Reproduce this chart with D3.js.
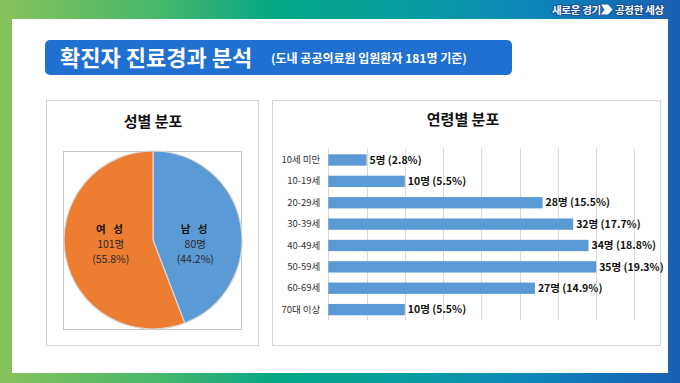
<!DOCTYPE html>
<html><head><meta charset="utf-8">
<script src="https://cdn.jsdelivr.net/npm/d3@7"></script>
<style>
html,body{margin:0;padding:0;background:#fff;}
svg{display:block;font-family:"Noto Sans CJK KR","Noto Sans",sans-serif;}
</style></head>
<body><svg id="c" width="680" height="383"></svg>
<script>
// ---- data ----
const titleText = "확진자 진료경과 분석";
const subtitleText = "(도내 공공의료원 입원환자 181명 기준)";
const sexCategories = ["남 성", "여 성"];
const sexValues = [80, 101];
const sexPercents = ["44.2%", "55.8%"];
const ageCategories = ["10세 미만","10-19세","20-29세","30-39세","40-49세","50-59세","60-69세","70대 이상"];
const ageValues = [5, 10, 28, 32, 34, 35, 27, 10];
const agePercents = ["2.8%","5.5%","15.5%","17.7%","18.8%","19.3%","14.9%","5.5%"];
const ageTicks = [0,5,10,15,20,25,30,35,40];

const svg = d3.select("#c");
const defs = svg.append("defs");
const g1 = defs.append("linearGradient").attr("id","bg").attr("x1","0").attr("x2","1").attr("y1","0").attr("y2","0");
[["0%","#86c35a"],["22%","#4bb86a"],["40%","#06a884"],["58%","#07a09f"],["78%","#0b86b8"],["100%","#1a5fb4"]]
  .forEach(s=>g1.append("stop").attr("offset",s[0]).attr("stop-color",s[1]));

svg.append("rect").attr("width",680).attr("height",383).attr("fill","url(#bg)");
svg.append("rect").attr("x",12).attr("y",19).attr("width",656).attr("height",354).attr("fill","#ffffff");

// logo
const logo = svg.append("g").attr("font-weight","bold").attr("font-size",10.5)
  .attr("fill","#fff").attr("stroke","#1b4f9a").attr("stroke-width",2).attr("paint-order","stroke");
logo.append("text").attr("x",552).attr("y",14).attr("letter-spacing",-0.3).text("새로운 경기");
logo.append("path").attr("d","M601,4.5 L608,4.5 L612.5,9.5 L608,14.5 L601,14.5 L604.5,9.5 Z").attr("stroke-width",1);
logo.append("text").attr("x",615).attr("y",14).attr("letter-spacing",-0.3).text("공정한 세상");

// title box
svg.append("rect").attr("x",45).attr("y",40).attr("width",467).attr("height",35).attr("rx",5).attr("fill","#1f70d0");
svg.append("text").attr("x",60).attr("y",66).attr("fill","#fff").attr("font-size",22).attr("font-weight","bold").text(titleText);
svg.append("text").attr("x",271).attr("y",63).attr("fill","#fff").attr("font-size",12).attr("font-weight","bold").text(subtitleText);

// panels
svg.append("rect").attr("x",46.5).attr("y",100.5).attr("width",212).attr("height",245).attr("fill","#fff").attr("stroke","#d4d4d4");
svg.append("rect").attr("x",272.5).attr("y",100.5).attr("width",388).attr("height",245).attr("fill","#fff").attr("stroke","#d4d4d4");

// ---- pie ----
svg.append("text").attr("x",153).attr("y",127).attr("text-anchor","middle").attr("font-size",15).attr("font-weight","bold").attr("fill","#111").text("성별 분포");
svg.append("rect").attr("x",63.5).attr("y",151.5).attr("width",178).attr("height",178).attr("fill","none").attr("stroke","#c4c4c4");
const cx = 153, cy = 240, R = 89;
const pieColors = d3.scaleOrdinal().domain(sexCategories).range(["#5b9bd5","#ed7d31"]);
const pie = d3.pie().sort(null).value(d=>d.v);
const sexData = sexCategories.map((c,i)=>({c, v:sexValues[i], p:sexPercents[i]}));
const arcs = pie(sexData);
const arc = d3.arc().innerRadius(0).outerRadius(R);
const labelArc = d3.arc().innerRadius(43).outerRadius(43);
const pg = svg.append("g").attr("transform",`translate(${cx},${cy})`);
pg.selectAll("path").data(arcs).join("path").attr("d",arc)
  .attr("fill",d=>pieColors(d.data.c)).attr("stroke","#d9d9d9").attr("stroke-width",1.2);
pg.selectAll("g.lbl").data(arcs).join("g").attr("class","lbl").each(function(d){
  const [x] = labelArc.centroid(d);
  const g = d3.select(this);
  g.append("text").attr("x",x).attr("y",-7).attr("text-anchor","middle").attr("font-size",10.5)
    .attr("font-weight","bold").attr("fill","#111").attr("letter-spacing",2.5).style("white-space","pre").text(d.data.c);
  g.append("text").attr("x",x).attr("y",8).attr("text-anchor","middle").attr("font-size",10.5).attr("fill","#2a2a2a").text(d.data.v + "명");
  g.append("text").attr("x",x).attr("y",23).attr("text-anchor","middle").attr("font-size",10.5).attr("fill","#2a2a2a").text("(" + d.data.p + ")");
});

// ---- bars ----
svg.append("text").attr("x",463).attr("y",125).attr("text-anchor","middle").attr("font-size",15).attr("font-weight","bold").attr("fill","#111").text("연령별 분포");
const x = d3.scaleLinear().domain([0,40]).range([328.3,634.4]);
const y = d3.scaleBand().domain(ageCategories).range([149.3,320.3]).paddingInner(0.47).paddingOuter(0.235);
const grid = svg.append("g");
grid.selectAll("line").data(ageTicks).join("line")
  .attr("x1",d=>Math.round(x(d))+0.5).attr("x2",d=>Math.round(x(d))+0.5)
  .attr("y1",148).attr("y2",320).attr("stroke","#d9d9d9").attr("stroke-width",1);
const yAxis = svg.append("g").attr("transform",`translate(${x(0)},0)`).call(d3.axisLeft(y).tickSize(0).tickPadding(8));
yAxis.select(".domain").remove();
yAxis.selectAll("text").attr("font-size",9.5).attr("fill","#333").attr("font-family",'"Noto Sans CJK KR",sans-serif');
const ageData = ageCategories.map((c,i)=>({c, v:ageValues[i], p:agePercents[i]}));
svg.append("g").selectAll("rect").data(ageData).join("rect")
  .attr("x",x(0)).attr("y",d=>y(d.c)).attr("width",d=>x(d.v)-x(0)).attr("height",y.bandwidth())
  .attr("fill","#5b9bd5");
svg.append("g").selectAll("text").data(ageData).join("text")
  .attr("x",d=>x(d.v)+3).attr("y",d=>y(d.c)+y.bandwidth()/2).attr("dy","0.35em")
  .attr("font-size",10.5).attr("font-weight","bold").attr("fill","#111")
  .text(d=>`${d.v}명 (${d.p})`);
</script></body></html>
